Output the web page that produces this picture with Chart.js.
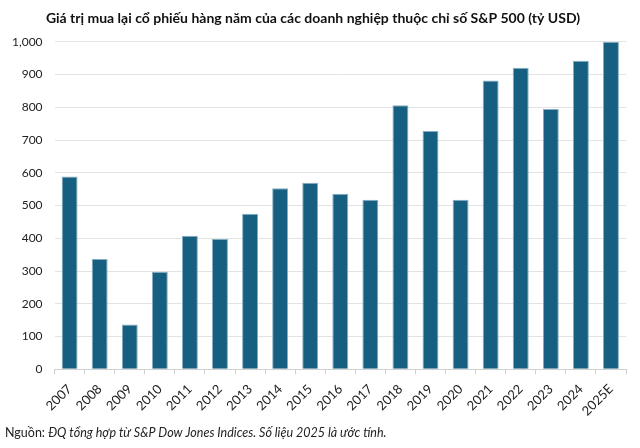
<!DOCTYPE html>
<html>
<head>
<meta charset="utf-8">
<script src="https://cdn.jsdelivr.net/npm/chart.js@4"></script>
<style>
  html, body { margin: 0; padding: 0; background: #fff; }
  #wrap { width: 640px; height: 448px; position: relative; }
</style>
</head>
<body>
<div id="wrap"><canvas id="buybackChart"></canvas></div>
<script>
const years = ['2007', '2008', '2009', '2010', '2011', '2012', '2013', '2014', '2015', '2016',
  '2017', '2018', '2019', '2020', '2021', '2022', '2023', '2024', '2025E'];
const buybacks = [589, 337, 137, 298, 408, 398, 475, 553, 570, 536,
  518, 806, 728, 518, 882, 921, 795, 942, 1000];
const titleText = 'Giá trị mua lại cổ phiếu hàng năm của các doanh nghiệp thuộc chỉ số S&P 500 (tỷ USD)';
const sourceLabel = 'Nguồn: ';
const sourceText = 'ĐQ tổng hợp từ S&P Dow Jones Indices. Số liệu 2025 là ước tính.';

const FONT = 'Lato, "Noto Sans", sans-serif';

// footer note, drawn under the axis
const sourceNote = {
  id: 'sourceNote',
  afterDraw(chart) {
    const ctx = chart.ctx;
    ctx.save();
    ctx.fillStyle = '#222';
    ctx.textBaseline = 'alphabetic';
    ctx.font = '12.5px ' + FONT;
    ctx.fillText(sourceLabel, 5, 437);
    const w = ctx.measureText(sourceLabel).width;
    ctx.font = 'italic 12.5px ' + FONT;
    ctx.fillText(sourceText, 5 + w, 437);
    ctx.restore();
  }
};

new Chart(document.getElementById('buybackChart'), {
  type: 'bar',
  data: {
    labels: years,
    datasets: [{
      data: buybacks,
      backgroundColor: '#165f81',
      borderColor: '#86aec2',
      borderWidth: 1,
      categoryPercentage: 1,
      barPercentage: 0.53
    }]
  },
  options: {
    responsive: true,
    maintainAspectRatio: false,
    animation: false,
    layout: { padding: { left: 0, right: 14, top: 4, bottom: 22 } },
    plugins: {
      legend: { display: false },
      tooltip: { enabled: false },
      title: {
        display: true,
        text: titleText,
        color: '#111',
        font: { family: FONT, size: 14, weight: 'bold' },
        padding: { top: 6, bottom: 15 }
      }
    },
    scales: {
      y: {
        min: 0,
        max: 1000,
        ticks: {
          stepSize: 100,
          color: '#222',
          font: { family: FONT, size: 12 },
          padding: 12,
          callback: v => v.toLocaleString('en-US')
        },
        grid: { color: '#e3e3e3', drawTicks: false },
        border: { display: false }
      },
      x: {
        ticks: {
          color: '#222',
          font: { family: FONT, size: 13 },
          minRotation: 45,
          maxRotation: 45,
          padding: 7
        },
        grid: { drawOnChartArea: false, color: '#d0d0d0', tickLength: 5 },
        border: { color: '#d0d0d0' }
      }
    }
  },
  plugins: [sourceNote]
});
</script>
</body>
</html>
